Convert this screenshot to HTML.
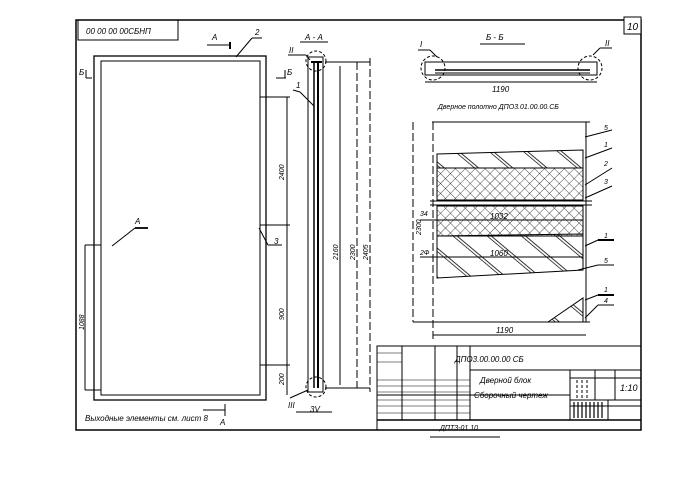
<!DOCTYPE html>
<html><head><meta charset="utf-8"><style>
html,body{margin:0;padding:0;background:#fff;}
svg{display:block;}
text{font-family:"Liberation Sans","DejaVu Sans",sans-serif;font-style:italic;fill:#000;}
</style></head><body>
<svg width="700" height="502" viewBox="0 0 700 502" xmlns="http://www.w3.org/2000/svg">
<defs>
<pattern id="hat" width="22" height="22" patternUnits="userSpaceOnUse" patternTransform="rotate(-50)">
<line x1="0" y1="0" x2="0" y2="22" stroke="#000" stroke-width="1.4"/><line x1="3" y1="0" x2="3" y2="22" stroke="#000" stroke-width="0.8"/>
</pattern>
<pattern id="cross" width="7" height="7" patternUnits="userSpaceOnUse" patternTransform="rotate(45)">
<line x1="0" y1="0" x2="0" y2="7" stroke="#000" stroke-width="0.7"/><line x1="0" y1="0" x2="7" y2="0" stroke="#000" stroke-width="0.7"/>
</pattern>
</defs>
<g stroke="#000" fill="none" stroke-width="1">
<!-- frame -->
<path d="M76 20 H641 V430 H76 Z" stroke-width="1.5"/>
<rect x="624" y="17" width="17" height="17" fill="#fff"/>
<rect x="78" y="20" width="100" height="20"/>
<!-- front view -->
<rect x="94" y="56" width="172" height="344" stroke-width="1.3"/>
<rect x="101" y="61" width="159" height="334"/>
<line x1="260" y1="97" x2="290" y2="97"/><line x1="260" y1="225" x2="290" y2="225"/><line x1="260" y1="365" x2="290" y2="365"/>
<line x1="287" y1="97" x2="287" y2="395"/>
<line x1="85" y1="245" x2="85" y2="390"/><line x1="85" y1="390" x2="101" y2="390"/><line x1="85" y1="245" x2="101" y2="245"/>
<line x1="112" y1="246" x2="135" y2="228"/><line x1="135" y1="228" x2="148" y2="228" stroke-width="1.8"/>
<line x1="236" y1="57" x2="252" y2="38"/><line x1="252" y1="38" x2="262" y2="38"/>
<line x1="207" y1="45" x2="230" y2="45"/><line x1="230" y1="42" x2="230" y2="49" stroke-width="2"/>
<line x1="259" y1="228" x2="268" y2="245"/><line x1="268" y1="245" x2="282" y2="245"/>
<line x1="86" y1="78" x2="92" y2="78"/><line x1="86" y1="70" x2="86" y2="78"/>
<line x1="276" y1="78" x2="286" y2="78"/><line x1="285" y1="70" x2="285" y2="78"/>
<line x1="203" y1="410" x2="225" y2="410"/><line x1="225" y1="404" x2="225" y2="416"/>
<!-- section A-A -->
<rect x="308" y="57" width="15" height="335"/>
<line x1="314" y1="62" x2="314" y2="388" stroke-width="1.5"/><line x1="318" y1="62" x2="318" y2="388" stroke-width="2"/>
<line x1="311" y1="62" x2="322" y2="62" stroke-width="2"/>
<circle cx="316" cy="61" r="10" stroke-dasharray="3,2"/><circle cx="316" cy="387" r="10" stroke-dasharray="3,2"/>
<line x1="325" y1="62" x2="370" y2="62"/><line x1="325" y1="388" x2="370" y2="388"/>
<line x1="340" y1="66" x2="340" y2="385"/><line x1="357" y1="62" x2="357" y2="388" stroke-dasharray="8,3"/><line x1="370" y1="58" x2="370" y2="392" stroke-dasharray="8,3"/>
<line x1="288" y1="55" x2="306" y2="55"/><line x1="306" y1="55" x2="310" y2="60"/>
<line x1="293" y1="90" x2="300" y2="92"/><line x1="300" y1="92" x2="314" y2="106"/>
<line x1="300" y1="42" x2="328" y2="42"/>
<line x1="290" y1="398" x2="308" y2="390"/>
<line x1="296" y1="412" x2="332" y2="412"/>
<!-- section B-B -->
<rect x="425" y="62" width="172" height="13"/>
<line x1="435" y1="70" x2="590" y2="70" stroke-width="1.5"/><line x1="435" y1="73" x2="590" y2="73"/>
<circle cx="433" cy="68" r="12" stroke-dasharray="3,2"/><circle cx="590" cy="68" r="12" stroke-dasharray="3,2"/>
<line x1="418" y1="50" x2="430" y2="50"/><line x1="430" y1="50" x2="437" y2="57"/>
<line x1="593" y1="55" x2="600" y2="48"/><line x1="600" y1="48" x2="612" y2="48"/>
<line x1="480" y1="44" x2="525" y2="44"/>
<line x1="425" y1="82" x2="597" y2="82"/>
<!-- panel -->
<line x1="418" y1="52" x2="418" y2="52"/>
<line x1="432" y1="122" x2="590" y2="122"/>
<line x1="413" y1="122" x2="413" y2="322" stroke-dasharray="8,3"/>
<line x1="433" y1="122" x2="433" y2="340" stroke-dasharray="8,3"/>
<line x1="586" y1="122" x2="586" y2="322"/>
<line x1="413" y1="322" x2="590" y2="322"/>
<line x1="433" y1="335" x2="586" y2="335"/>
<path d="M437 154 L583 150 L583 168 L437 168 Z" fill="url(#hat)"/>
<path d="M437 168 H583 V200 H437 Z" fill="url(#cross)"/>
<path d="M437 206 H583 V236 H437 Z" fill="url(#cross)"/>
<path d="M437 236 L583 234 L583 270 L437 278 Z" fill="url(#hat)"/>
<path d="M548 322 L583 298 L583 322 Z" fill="url(#hat)"/>
<line x1="430" y1="201" x2="592" y2="201"/><line x1="430" y1="205" x2="592" y2="205"/>
<line x1="420" y1="220" x2="583" y2="220"/><line x1="420" y1="257" x2="583" y2="257"/>
<line x1="585" y1="137" x2="612" y2="130"/><line x1="585" y1="158" x2="612" y2="148"/><line x1="585" y1="185" x2="612" y2="168"/><line x1="585" y1="198" x2="612" y2="186"/>
<line x1="585" y1="246" x2="598" y2="240"/><line x1="598" y1="240" x2="614" y2="240" stroke-width="2"/>
<line x1="578" y1="270" x2="598" y2="265"/><line x1="598" y1="265" x2="614" y2="265"/>
<line x1="585" y1="300" x2="598" y2="295"/><line x1="598" y1="295" x2="614" y2="295" stroke-width="2"/>
<line x1="585" y1="318" x2="598" y2="305"/><line x1="598" y1="305" x2="614" y2="305"/>
<!-- title block -->
<rect x="377" y="346" width="264" height="84"/>
<line x1="470" y1="370" x2="641" y2="370"/>
<line x1="377" y1="395" x2="470" y2="395"/><line x1="470" y1="395" x2="570" y2="395"/>
<line x1="377" y1="420" x2="641" y2="420" stroke-width="1.5"/>
<line x1="402" y1="346" x2="402" y2="420"/><line x1="435" y1="346" x2="435" y2="420"/><line x1="457" y1="346" x2="457" y2="420"/><line x1="470" y1="346" x2="470" y2="420"/>
<line x1="570" y1="370" x2="570" y2="420"/><line x1="570" y1="378" x2="641" y2="378"/><line x1="570" y1="400" x2="641" y2="400"/><line x1="570" y1="406" x2="641" y2="406"/>
<line x1="595" y1="370" x2="595" y2="400"/><line x1="615" y1="370" x2="615" y2="400"/><line x1="608" y1="400" x2="608" y2="420"/>
<g stroke-width="0.6"><line x1="377" y1="353" x2="402" y2="353"/><line x1="377" y1="362" x2="402" y2="362"/><line x1="377" y1="380" x2="470" y2="380"/><line x1="377" y1="386" x2="470" y2="386"/><line x1="377" y1="392" x2="470" y2="392"/><line x1="377" y1="400" x2="470" y2="400"/><line x1="377" y1="406" x2="470" y2="406"/><line x1="377" y1="413" x2="470" y2="413"/></g>
<path d="M574 402 V418 M578 402 V418 M582 402 V418 M586 402 V418 M590 402 V418 M594 402 V418 M598 402 V418 M602 402 V418" stroke-width="1.2"/>
<path d="M577 380 V398 M582 380 V398 M587 380 V398" stroke-dasharray="3,2"/>
<line x1="430" y1="437" x2="500" y2="437"/>
</g>
<g font-size="8">
<text x="86" y="34" font-size="8">00 00 00 00СБНП</text>
<text x="627" y="30" font-size="10" font-style="normal">10</text>
<text x="212" y="40">А</text><text x="255" y="35">2</text>
<text x="79" y="75">Б</text><text x="287" y="75">Б</text>
<text x="135" y="224">А</text><text x="274" y="244">3</text>
<text x="85" y="421" font-size="8">Выходные элементы см. лист 8</text>
<text x="220" y="425">А</text>
<text x="305" y="40">А - А</text><text x="289" y="53">II</text><text x="296" y="88">1</text><text x="288" y="408">III</text><text x="310" y="412">3V</text>
<text x="486" y="40">Б - Б</text><text x="420" y="47">I</text><text x="605" y="46">II</text><text x="492" y="92">1190</text>
<text x="438" y="109" font-size="7">Дверное полотно  ДПО3.01.00.00.СБ</text>
<text x="420" y="216" font-size="7">34</text><text x="490" y="219" font-size="8">1032</text>
<text x="420" y="255" font-size="7">2Ф</text><text x="490" y="256" font-size="8">1060</text>
<text x="496" y="333" font-size="8">1190</text>
<text x="604" y="130" font-size="7">5</text><text x="604" y="147" font-size="7">1</text><text x="604" y="166" font-size="7">2</text><text x="604" y="184" font-size="7">3</text><text x="604" y="238" font-size="7">1</text><text x="604" y="263" font-size="7">5</text><text x="604" y="292" font-size="7">1</text><text x="604" y="303" font-size="7">4</text>
<text x="455" y="362" font-size="8">ДПО3.00.00.00 СБ</text>
<text x="480" y="383" font-size="8">Дверной блок</text><text x="474" y="398" font-size="8">Сборочный чертеж</text>
<text x="620" y="391" font-size="9" font-style="normal">1:10</text>
<text x="440" y="430" font-size="7">ДПТ3-01   10</text>
</g>
<g font-size="7" transform="rotate(-90)">
<text x="-180" y="284">2400</text><text x="-320" y="284">900</text><text x="-385" y="284">200</text>
<text x="-330" y="84">1088</text>
<text x="-260" y="338">2160</text><text x="-260" y="355">2300</text><text x="-260" y="368">2405</text>
<text x="-235" y="421">2300</text>
</g>
</svg>
</body></html>
